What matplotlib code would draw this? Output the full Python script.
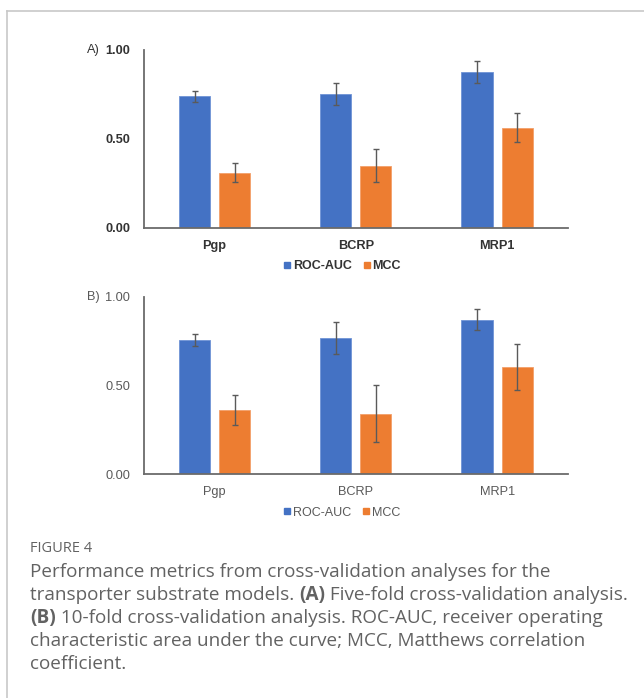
import matplotlib
matplotlib.use("Agg")
import matplotlib.pyplot as plt
from matplotlib.lines import Line2D
import numpy as np

categories = ["Pgp", "BCRP", "MRP1"]
series = ["ROC-AUC", "MCC"]
# Panel A: five-fold CV
a_roc = [0.74, 0.755, 0.877]
a_roc_err = [0.031, 0.062, 0.062]
a_mcc = [0.31, 0.349, 0.562]
a_mcc_err = [0.052, 0.094, 0.081]
# Panel B: 10-fold CV
b_roc = [0.757, 0.767, 0.870]
b_roc_err = [0.033, 0.092, 0.060]
b_mcc = [0.362, 0.341, 0.604]
b_mcc_err = [0.082, 0.161, 0.131]
yticks = [0.0, 0.5, 1.0]
ytick_labels = ["0.00", "0.50", "1.00"]

BLUE = "#4472C4"
ORANGE = "#ED7D31"
W, H = 644, 698
fig = plt.figure(figsize=(W / 100, H / 100), dpi=100)
fig.patch.set_facecolor("white")
plt.rcParams["font.family"] = ["Liberation Sans", "DejaVu Sans"]


def fx(px):
    return px / W


def fy(py):
    return 1 - py / H


def panel(top, bottom, roc, roc_err, mcc, mcc_err, label, weight, tcolor):
    ax = fig.add_axes([fx(144), fy(bottom), fx(567.7) - fx(144), fy(top) - fy(bottom)])
    x = np.arange(len(categories))
    w = 0.22
    off = 0.142
    ek = dict(ecolor="#5a5a5a", elinewidth=1.0, capsize=2.5, capthick=1.0)
    ax.bar(x - off, roc, w, color=BLUE, edgecolor="#6f93d6", linewidth=0.6,
           yerr=roc_err, error_kw=ek, zorder=2)
    ax.bar(x + off, mcc, w, color=ORANGE, edgecolor="#f3a06a", linewidth=0.6,
           yerr=mcc_err, error_kw=ek, zorder=2)
    ax.set_xlim(-0.5, len(categories) - 0.5)
    ax.set_ylim(0, 1)
    ax.set_yticks(yticks)
    ax.set_yticklabels(ytick_labels)
    ax.set_xticks(x)
    ax.set_xticklabels(categories)
    for s in ["top", "right"]:
        ax.spines[s].set_visible(False)
    for s in ["left", "bottom"]:
        ax.spines[s].set_color("#6b6b6b")
        ax.spines[s].set_linewidth(1.3)
    ax.tick_params(axis="both", length=0, labelsize=9.2, colors=tcolor)
    ax.tick_params(axis="y", pad=10)
    ax.tick_params(axis="x", pad=8.5)
    for t in ax.get_xticklabels() + ax.get_yticklabels():
        t.set_fontweight(weight)
    fig.text(fx(87), fy(top), label, fontsize=9.2, color=tcolor, va="center",
             ha="left", fontweight="normal")
    handles = [Line2D([], [], marker="s", linestyle="none", markersize=4.5,
                      color=BLUE),
               Line2D([], [], marker="s", linestyle="none", markersize=4.5,
                      color=ORANGE)]
    leg = fig.legend(handles, series, loc="center",
                     bbox_to_anchor=(fx(342), fy(bottom + 38.5)), ncol=2,
                     frameon=False, handlelength=0.6, handletextpad=0.15,
                     columnspacing=0.9, fontsize=9.0)
    for t in leg.get_texts():
        t.set_color(tcolor)
        t.set_fontweight(weight)
    return ax


panel(50, 227.7, a_roc, a_roc_err, a_mcc, a_mcc_err, "A)", "bold", "#333333")
panel(296.7, 474.3, b_roc, b_roc_err, b_mcc, b_mcc_err, "B)", "normal", "#595959")

# frame lines
fig.add_artist(Line2D([fx(7), fx(7)], [fy(11), 0], color="#c8c8c8", lw=1.2))
fig.add_artist(Line2D([fx(7), 1], [fy(11), fy(11)], color="#c8c8c8", lw=1.2))

# caption
CAP = "#626262"
cfont = ["Open Sans", "DejaVu Sans"]
fig.text(fx(30), fy(549), "FIGURE 4", fontsize=10.5, color=CAP, va="center",
         ha="left", family=cfont)

lines = [
    [("Performance metrics from cross-validation analyses for the", "normal")],
    [("transporter substrate models. ", "normal"), ("(A)", "bold"),
     (" Five-fold cross-validation analysis.", "normal")],
    [("(B)", "bold"), (" 10-fold cross-validation analysis. ROC-AUC, receiver operating", "normal")],
    [("characteristic area under the curve; MCC, Matthews correlation", "normal")],
    [("coefficient.", "normal")],
]
renderer = fig.canvas.get_renderer()
y0 = 572
for i, segs in enumerate(lines):
    xpix = 30
    for txt, wt in segs:
        t = fig.text(fx(xpix), fy(y0 + i * 23), txt, fontsize=13.55, color=CAP,
                     va="center", ha="left", family=cfont, fontweight=wt)
        bb = t.get_window_extent(renderer=renderer)
        xpix += bb.width

fig.savefig("out.png", dpi=100, facecolor="white")
